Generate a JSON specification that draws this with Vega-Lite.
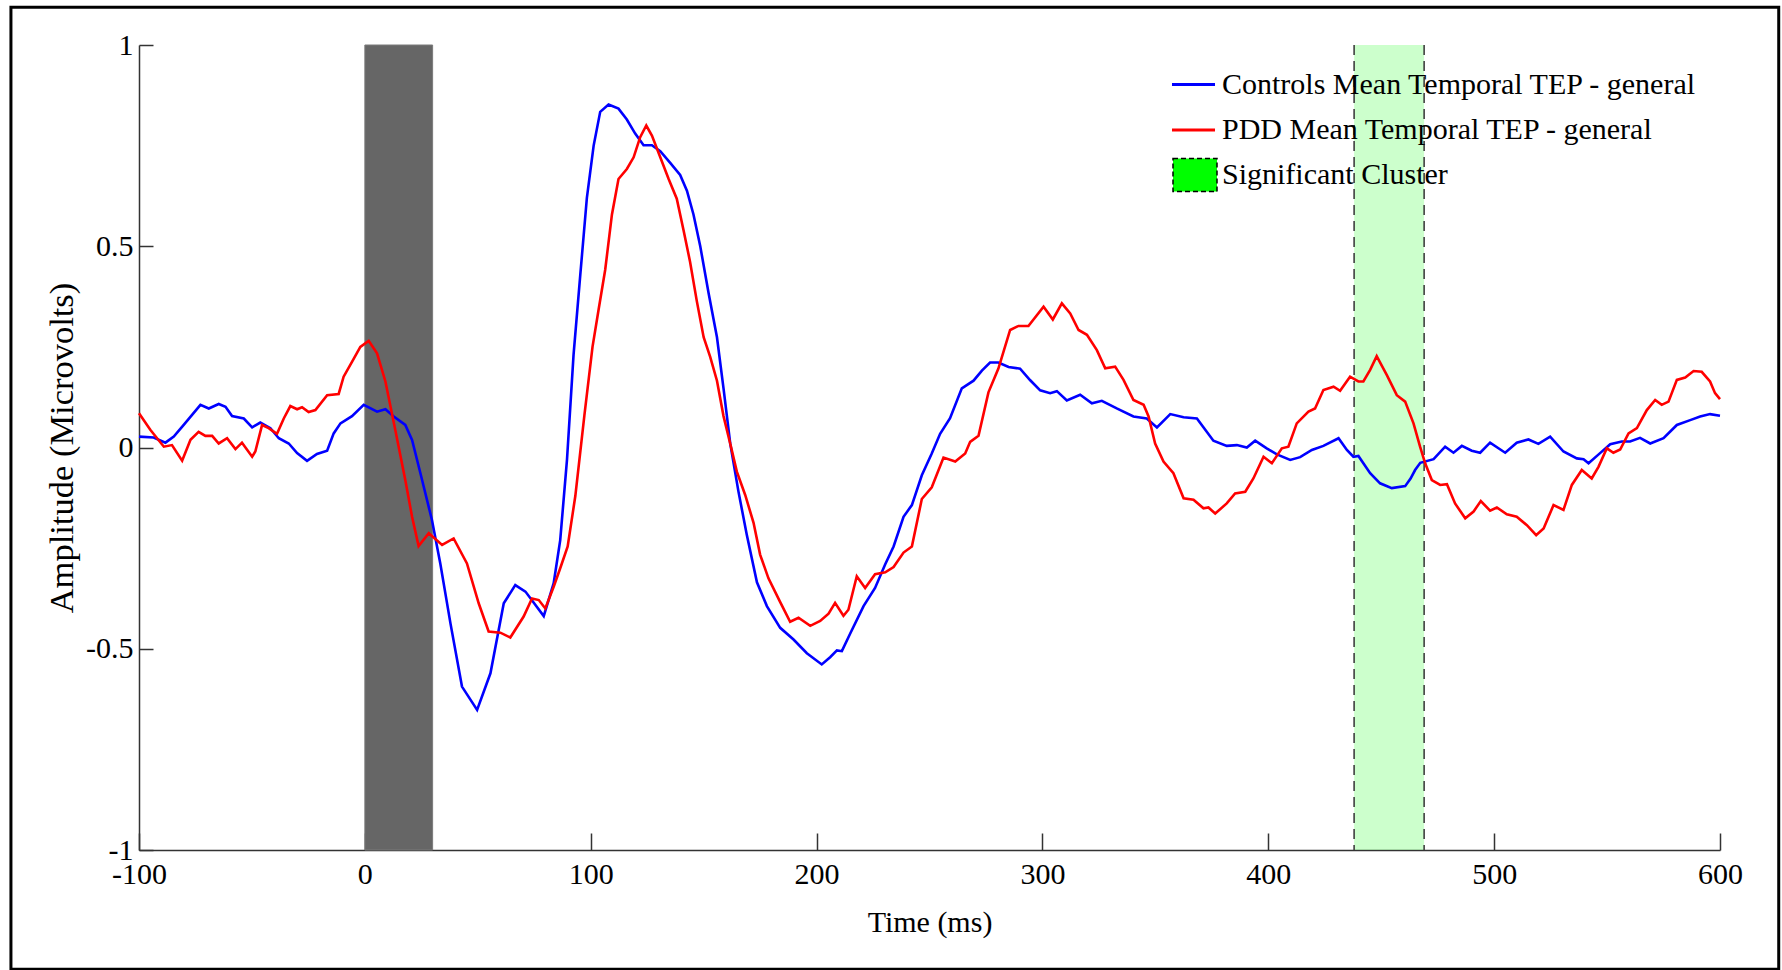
{
  "$schema": "https://vega.github.io/schema/vega-lite/v6.json",
  "autosize": {"type": "none"},
  "padding": {"left": 139, "top": 45, "right": 62, "bottom": 120},
  "width": 1581,
  "height": 805,
  "background": "white",
  "config": {
    "view": {"stroke": null},
    "font": "Liberation Serif",
    "axis": {
      "grid": false,
      "domainColor": "#333333",
      "domainWidth": 1.5,
      "tickColor": "#333333",
      "tickWidth": 1.5,
      "labelFont": "Liberation Serif",
      "labelFontSize": 30,
      "labelColor": "black",
      "titleFont": "Liberation Serif",
      "titleFontSize": 30,
      "titleFontWeight": "normal",
      "titleColor": "black"
    }
  },
  "datasets": {
    "controls": [
      {"t": -100, "v": 0.027}, {"t": -93.5, "v": 0.025}, {"t": -88.3, "v": 0.012}, {"t": -84.6, "v": 0.027},
      {"t": -80.2, "v": 0.056}, {"t": -72.8, "v": 0.106}, {"t": -69.1, "v": 0.097}, {"t": -64.7, "v": 0.108},
      {"t": -61.7, "v": 0.101}, {"t": -58.8, "v": 0.078}, {"t": -53.6, "v": 0.072}, {"t": -49.9, "v": 0.05},
      {"t": -46.3, "v": 0.062}, {"t": -41.8, "v": 0.048}, {"t": -38.1, "v": 0.023}, {"t": -33.7, "v": 0.01},
      {"t": -30.0, "v": -0.014}, {"t": -25.6, "v": -0.033}, {"t": -21.2, "v": -0.016}, {"t": -16.7, "v": -0.008},
      {"t": -13.8, "v": 0.035}, {"t": -10.8, "v": 0.06}, {"t": -5.7, "v": 0.078}, {"t": -0.5, "v": 0.106},
      {"t": 5.4, "v": 0.089}, {"t": 9.1, "v": 0.095}, {"t": 12.8, "v": 0.077}, {"t": 17.9, "v": 0.056},
      {"t": 20.9, "v": 0.019}, {"t": 24.6, "v": -0.064}, {"t": 29.7, "v": -0.18}, {"t": 33.4, "v": -0.288},
      {"t": 37.9, "v": -0.437}, {"t": 43.0, "v": -0.594}, {"t": 49.7, "v": -0.652}, {"t": 55.6, "v": -0.561},
      {"t": 61.5, "v": -0.387}, {"t": 66.6, "v": -0.342}, {"t": 71.1, "v": -0.358}, {"t": 79.2, "v": -0.419},
      {"t": 83.6, "v": -0.337}, {"t": 86.5, "v": -0.23}, {"t": 89.5, "v": -0.03}, {"t": 92.4, "v": 0.23},
      {"t": 95.4, "v": 0.43}, {"t": 98.3, "v": 0.62}, {"t": 101.3, "v": 0.75}, {"t": 104.2, "v": 0.834},
      {"t": 107.9, "v": 0.852}, {"t": 112.3, "v": 0.842}, {"t": 116.0, "v": 0.815}, {"t": 119.7, "v": 0.78},
      {"t": 123.4, "v": 0.751}, {"t": 127.1, "v": 0.751}, {"t": 130.8, "v": 0.736}, {"t": 135.2, "v": 0.707},
      {"t": 139.6, "v": 0.677}, {"t": 142.6, "v": 0.638}, {"t": 145.5, "v": 0.579}, {"t": 148.5, "v": 0.5},
      {"t": 152.2, "v": 0.383}, {"t": 155.9, "v": 0.274}, {"t": 158.8, "v": 0.147}, {"t": 161.8, "v": 0.009},
      {"t": 165.4, "v": -0.109}, {"t": 169.1, "v": -0.217}, {"t": 173.6, "v": -0.335}, {"t": 178.0, "v": -0.394},
      {"t": 183.9, "v": -0.448}, {"t": 189.8, "v": -0.477}, {"t": 195.7, "v": -0.511}, {"t": 202.3, "v": -0.539},
      {"t": 206.0, "v": -0.521}, {"t": 209.0, "v": -0.504}, {"t": 211.2, "v": -0.506}, {"t": 214.9, "v": -0.462},
      {"t": 220.8, "v": -0.394}, {"t": 225.9, "v": -0.349}, {"t": 230.4, "v": -0.29}, {"t": 234.1, "v": -0.246},
      {"t": 238.5, "v": -0.172}, {"t": 242.2, "v": -0.143}, {"t": 246.6, "v": -0.069}, {"t": 251.0, "v": -0.015},
      {"t": 254.7, "v": 0.034}, {"t": 259.1, "v": 0.073}, {"t": 264.3, "v": 0.147}, {"t": 269.5, "v": 0.166},
      {"t": 273.2, "v": 0.191}, {"t": 276.8, "v": 0.211}, {"t": 280.5, "v": 0.211}, {"t": 285.0, "v": 0.2},
      {"t": 290.1, "v": 0.196}, {"t": 294.6, "v": 0.167}, {"t": 299.0, "v": 0.142}, {"t": 303.4, "v": 0.135},
      {"t": 306.4, "v": 0.14}, {"t": 310.8, "v": 0.117}, {"t": 316.7, "v": 0.131}, {"t": 321.9, "v": 0.11},
      {"t": 326.3, "v": 0.116}, {"t": 332.9, "v": 0.097}, {"t": 340.3, "v": 0.077}, {"t": 346.2, "v": 0.072},
      {"t": 350.7, "v": 0.05}, {"t": 356.6, "v": 0.083}, {"t": 362.5, "v": 0.075}, {"t": 368.4, "v": 0.072},
      {"t": 375.7, "v": 0.017}, {"t": 381.6, "v": 0.004}, {"t": 386.1, "v": 0.006}, {"t": 390.5, "v": 0.0},
      {"t": 394.2, "v": 0.017}, {"t": 399.3, "v": -0.002}, {"t": 403.8, "v": -0.017}, {"t": 409.7, "v": -0.031},
      {"t": 414.1, "v": -0.024}, {"t": 419.3, "v": -0.006}, {"t": 424.4, "v": 0.004}, {"t": 431.1, "v": 0.023},
      {"t": 434.8, "v": -0.006}, {"t": 437.7, "v": -0.023}, {"t": 439.9, "v": -0.021}, {"t": 445.1, "v": -0.064},
      {"t": 449.5, "v": -0.089}, {"t": 454.7, "v": -0.101}, {"t": 460.6, "v": -0.096}, {"t": 463.0, "v": -0.077},
      {"t": 465.0, "v": -0.056}, {"t": 467.3, "v": -0.038}, {"t": 473.2, "v": -0.029}, {"t": 478.3, "v": 0.002},
      {"t": 482.0, "v": -0.013}, {"t": 485.7, "v": 0.004}, {"t": 490.1, "v": -0.008}, {"t": 493.8, "v": -0.013},
      {"t": 498.2, "v": 0.012}, {"t": 504.9, "v": -0.013}, {"t": 510.0, "v": 0.012}, {"t": 515.2, "v": 0.02},
      {"t": 519.6, "v": 0.009}, {"t": 524.8, "v": 0.027}, {"t": 530.7, "v": -0.01}, {"t": 536.6, "v": -0.027},
      {"t": 539.6, "v": -0.029}, {"t": 541.8, "v": -0.039}, {"t": 546.9, "v": -0.014}, {"t": 551.4, "v": 0.008},
      {"t": 556.5, "v": 0.015}, {"t": 560.2, "v": 0.015}, {"t": 564.6, "v": 0.024}, {"t": 569.1, "v": 0.01},
      {"t": 575.0, "v": 0.023}, {"t": 580.9, "v": 0.056}, {"t": 586.8, "v": 0.068}, {"t": 591.2, "v": 0.077},
      {"t": 595.6, "v": 0.083}, {"t": 600.0, "v": 0.079}
    ],
    "pdd": [
      {"t": -100, "v": 0.085}, {"t": -95.0, "v": 0.044}, {"t": -89.0, "v": 0.002}, {"t": -85.4, "v": 0.006},
      {"t": -80.9, "v": -0.033}, {"t": -77.2, "v": 0.019}, {"t": -73.6, "v": 0.039}, {"t": -70.6, "v": 0.029},
      {"t": -67.6, "v": 0.029}, {"t": -64.7, "v": 0.01}, {"t": -61.0, "v": 0.023}, {"t": -57.3, "v": -0.004},
      {"t": -54.4, "v": 0.012}, {"t": -49.9, "v": -0.023}, {"t": -48.5, "v": -0.01}, {"t": -45.5, "v": 0.056},
      {"t": -42.6, "v": 0.048}, {"t": -38.9, "v": 0.034}, {"t": -35.9, "v": 0.072}, {"t": -33.0, "v": 0.103},
      {"t": -30.0, "v": 0.095}, {"t": -27.8, "v": 0.1}, {"t": -24.9, "v": 0.088}, {"t": -21.9, "v": 0.093},
      {"t": -16.7, "v": 0.13}, {"t": -11.6, "v": 0.133}, {"t": -9.4, "v": 0.176}, {"t": -5.7, "v": 0.213},
      {"t": -2.0, "v": 0.25}, {"t": 1.7, "v": 0.265}, {"t": 5.4, "v": 0.234}, {"t": 9.1, "v": 0.164},
      {"t": 13.5, "v": 0.043}, {"t": 17.9, "v": -0.081}, {"t": 20.9, "v": -0.172}, {"t": 23.8, "v": -0.245},
      {"t": 28.3, "v": -0.213}, {"t": 34.2, "v": -0.242}, {"t": 39.3, "v": -0.226}, {"t": 45.2, "v": -0.288},
      {"t": 50.4, "v": -0.387}, {"t": 54.8, "v": -0.457}, {"t": 60.0, "v": -0.46}, {"t": 64.4, "v": -0.472},
      {"t": 70.3, "v": -0.42}, {"t": 74.0, "v": -0.375}, {"t": 77.0, "v": -0.379}, {"t": 79.9, "v": -0.4},
      {"t": 83.6, "v": -0.346}, {"t": 86.5, "v": -0.3}, {"t": 89.8, "v": -0.246}, {"t": 93.2, "v": -0.12},
      {"t": 97.2, "v": 0.08}, {"t": 100.8, "v": 0.25}, {"t": 103.5, "v": 0.343}, {"t": 106.4, "v": 0.441},
      {"t": 109.4, "v": 0.579}, {"t": 112.3, "v": 0.667}, {"t": 116.0, "v": 0.692}, {"t": 119.0, "v": 0.721},
      {"t": 121.9, "v": 0.771}, {"t": 124.6, "v": 0.8}, {"t": 127.1, "v": 0.775}, {"t": 130.8, "v": 0.721},
      {"t": 134.5, "v": 0.667}, {"t": 138.1, "v": 0.618}, {"t": 141.1, "v": 0.54}, {"t": 144.0, "v": 0.461},
      {"t": 147.0, "v": 0.363}, {"t": 150.0, "v": 0.274}, {"t": 152.9, "v": 0.225}, {"t": 155.9, "v": 0.166},
      {"t": 158.8, "v": 0.078}, {"t": 161.8, "v": 0.009}, {"t": 164.7, "v": -0.06}, {"t": 168.4, "v": -0.118},
      {"t": 172.1, "v": -0.187}, {"t": 175.0, "v": -0.266}, {"t": 178.7, "v": -0.325}, {"t": 183.9, "v": -0.384},
      {"t": 188.3, "v": -0.433}, {"t": 192.0, "v": -0.423}, {"t": 197.2, "v": -0.443}, {"t": 201.6, "v": -0.431},
      {"t": 205.3, "v": -0.413}, {"t": 208.2, "v": -0.386}, {"t": 211.9, "v": -0.418}, {"t": 214.1, "v": -0.403},
      {"t": 217.8, "v": -0.32}, {"t": 221.5, "v": -0.349}, {"t": 225.9, "v": -0.315}, {"t": 230.4, "v": -0.31},
      {"t": 234.1, "v": -0.297}, {"t": 238.5, "v": -0.261}, {"t": 242.2, "v": -0.246}, {"t": 246.6, "v": -0.128},
      {"t": 251.0, "v": -0.099}, {"t": 256.2, "v": -0.025}, {"t": 261.4, "v": -0.035}, {"t": 265.8, "v": -0.015},
      {"t": 268.0, "v": 0.014}, {"t": 271.7, "v": 0.029}, {"t": 276.1, "v": 0.137}, {"t": 280.5, "v": 0.196},
      {"t": 285.7, "v": 0.292}, {"t": 289.4, "v": 0.302}, {"t": 293.8, "v": 0.302}, {"t": 300.5, "v": 0.35},
      {"t": 304.6, "v": 0.318}, {"t": 308.6, "v": 0.358}, {"t": 312.3, "v": 0.333}, {"t": 316.0, "v": 0.292},
      {"t": 319.7, "v": 0.28}, {"t": 324.1, "v": 0.242}, {"t": 327.8, "v": 0.197}, {"t": 332.2, "v": 0.201},
      {"t": 335.9, "v": 0.168}, {"t": 340.3, "v": 0.118}, {"t": 344.8, "v": 0.106}, {"t": 347.0, "v": 0.077},
      {"t": 349.9, "v": 0.01}, {"t": 353.6, "v": -0.035}, {"t": 358.0, "v": -0.064}, {"t": 362.5, "v": -0.126},
      {"t": 366.9, "v": -0.13}, {"t": 371.3, "v": -0.151}, {"t": 373.5, "v": -0.149}, {"t": 376.5, "v": -0.164},
      {"t": 381.6, "v": -0.139}, {"t": 385.3, "v": -0.114}, {"t": 389.8, "v": -0.11}, {"t": 393.4, "v": -0.077},
      {"t": 397.9, "v": -0.023}, {"t": 401.6, "v": -0.039}, {"t": 406.0, "v": -0.002}, {"t": 408.9, "v": 0.002},
      {"t": 412.6, "v": 0.06}, {"t": 417.8, "v": 0.089}, {"t": 420.7, "v": 0.097}, {"t": 424.4, "v": 0.143},
      {"t": 428.9, "v": 0.151}, {"t": 431.8, "v": 0.141}, {"t": 436.2, "v": 0.176}, {"t": 439.9, "v": 0.164},
      {"t": 442.1, "v": 0.164}, {"t": 445.1, "v": 0.193}, {"t": 448.0, "v": 0.227}, {"t": 452.5, "v": 0.18},
      {"t": 456.9, "v": 0.13}, {"t": 460.6, "v": 0.114}, {"t": 464.3, "v": 0.06}, {"t": 467.2, "v": 0.002},
      {"t": 469.5, "v": -0.04}, {"t": 472.4, "v": -0.081}, {"t": 476.1, "v": -0.093}, {"t": 479.1, "v": -0.091},
      {"t": 482.7, "v": -0.139}, {"t": 487.2, "v": -0.176}, {"t": 490.9, "v": -0.159}, {"t": 494.1, "v": -0.133},
      {"t": 498.2, "v": -0.157}, {"t": 501.2, "v": -0.149}, {"t": 505.6, "v": -0.166}, {"t": 510.0, "v": -0.172},
      {"t": 514.5, "v": -0.193}, {"t": 518.6, "v": -0.218}, {"t": 521.9, "v": -0.201}, {"t": 526.3, "v": -0.143},
      {"t": 530.7, "v": -0.155}, {"t": 534.4, "v": -0.093}, {"t": 538.8, "v": -0.056}, {"t": 543.2, "v": -0.077},
      {"t": 546.2, "v": -0.048}, {"t": 549.9, "v": -0.002}, {"t": 552.8, "v": -0.013}, {"t": 555.8, "v": -0.005},
      {"t": 559.5, "v": 0.035}, {"t": 563.2, "v": 0.048}, {"t": 567.6, "v": 0.093}, {"t": 571.3, "v": 0.118},
      {"t": 574.2, "v": 0.106}, {"t": 577.2, "v": 0.114}, {"t": 580.9, "v": 0.168}, {"t": 584.6, "v": 0.174},
      {"t": 588.3, "v": 0.19}, {"t": 591.9, "v": 0.188}, {"t": 595.6, "v": 0.164}, {"t": 597.8, "v": 0.135},
      {"t": 600.0, "v": 0.12}
    ],
    "stimulus": [{"start": 0, "end": 30}],
    "cluster": [{"start": 438, "end": 469}]
  },
  "encoding": {
    "x": {
      "type": "quantitative",
      "scale": {"domain": [-100, 600], "nice": false, "zero": false},
      "axis": {
        "title": "Time (ms)",
        "values": [-100, 0, 100, 200, 300, 400, 500, 600],
        "labelExpr": "'' + datum.value",
        "tickSize": -17,
        "labelPadding": 26,
        "labelFlush": false,
        "labelOverlap": false,
        "titlePadding": 18
      }
    },
    "y": {
      "type": "quantitative",
      "scale": {"domain": [-1, 1], "nice": false, "zero": false},
      "axis": {
        "title": "Amplitude (Microvolts)",
        "titleFontSize": 34.5,
        "values": [-1, -0.5, 0, 0.5, 1],
        "labelExpr": "'' + datum.value",
        "tickSize": -14,
        "labelPadding": 20,
        "labelFlush": false,
        "labelOverlap": false,
        "titlePadding": 6
      }
    }
  },
  "layer": [
    {
      "data": {"name": "stimulus"},
      "mark": {"type": "rect", "color": "#666666", "stroke": "#7a7a7a", "strokeWidth": 1},
      "encoding": {"x": {"field": "start"}, "x2": {"field": "end"}}
    },
    {
      "data": {"name": "cluster"},
      "mark": {"type": "rect", "fillOpacity": 0.2},
      "encoding": {
        "x": {"field": "start"},
        "x2": {"field": "end"},
        "fill": {
          "datum": "Significant Cluster",
          "type": "nominal",
          "scale": {"range": ["#00ff00"]},
          "legend": {
            "orient": "none",
            "legendX": 1033,
            "legendY": 107,
            "title": null,
            "padding": 0,
            "symbolType": "M-1,-0.75H1V0.75H-1Z",
            "symbolSize": 1936,
            "symbolStrokeColor": "#000000",
            "symbolStrokeWidth": 1.5,
            "symbolDash": [5, 3],
            "labelFont": "Liberation Serif",
            "labelFontSize": 30,
            "labelColor": "black",
            "labelOffset": 4,
            "labelLimit": 800,
            "encode": {"symbols": {"update": {"fillOpacity": {"value": 1}, "opacity": {"value": 1}}}}
          }
        }
      }
    },
    {
      "data": {"name": "cluster"},
      "mark": {"type": "rule", "color": "#404040", "strokeWidth": 1.6, "strokeDash": [10, 6]},
      "encoding": {"x": {"field": "start"}}
    },
    {
      "data": {"name": "cluster"},
      "mark": {"type": "rule", "color": "#404040", "strokeWidth": 1.6, "strokeDash": [10, 6]},
      "encoding": {"x": {"field": "end"}}
    },
    {
      "data": {"name": "controls"},
      "mark": {"type": "line", "strokeWidth": 2.6},
      "encoding": {
        "x": {"field": "t"},
        "y": {"field": "v"},
        "color": {
          "datum": "Controls Mean Temporal TEP - general",
          "type": "nominal",
          "scale": {
            "domain": ["Controls Mean Temporal TEP - general", "PDD Mean Temporal TEP - general"],
            "range": ["#0000ff", "#ff0000"]
          },
          "legend": {
            "orient": "none",
            "legendX": 1031,
            "legendY": 16,
            "title": null,
            "padding": 0,
            "symbolType": "stroke",
            "symbolSize": 1850,
            "symbolStrokeWidth": 3,
            "rowPadding": 6.5,
            "labelFont": "Liberation Serif",
            "labelFontSize": 30,
            "labelColor": "black",
            "labelOffset": 5,
            "labelLimit": 800
          }
        }
      }
    },
    {
      "data": {"name": "pdd"},
      "mark": {"type": "line", "strokeWidth": 2.6},
      "encoding": {
        "x": {"field": "t"},
        "y": {"field": "v"},
        "color": {"datum": "PDD Mean Temporal TEP - general", "type": "nominal"}
      }
    },
    {
      "data": {"values": [{}]},
      "mark": {"type": "rect", "fill": null, "fillOpacity": 0, "stroke": "black", "strokeWidth": 3},
      "encoding": {
        "x": {"datum": -156.7},
        "x2": {"datum": 626},
        "y": {"datum": 1.094},
        "y2": {"datum": -1.296}
      }
    }
  ]
}
